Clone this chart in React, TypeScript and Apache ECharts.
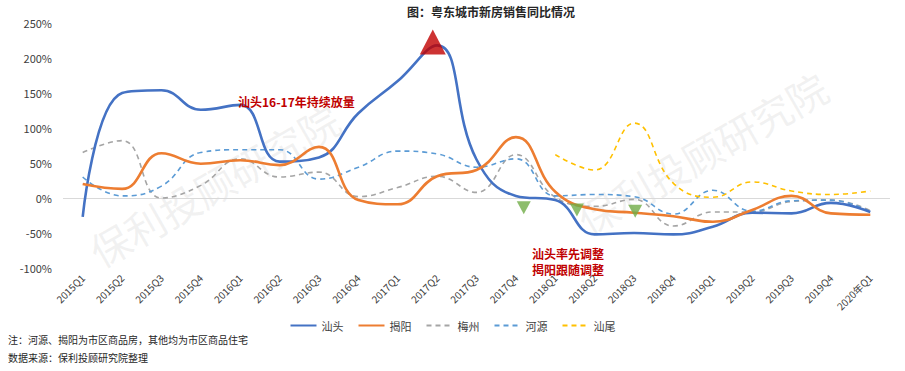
import React, { useEffect, useRef } from "react";
import * as echarts from "echarts";

const categories = ["2015Q1","2015Q2","2015Q3","2015Q4","2016Q1","2016Q2","2016Q3","2016Q4","2017Q1","2017Q2","2017Q3","2017Q4","2018Q1","2018Q2","2018Q3","2018Q4","2019Q1","2019Q2","2019Q3","2019Q4","2020年Q1"];
const shantou = [-27,150,154,126,133,52,58,121,167,218,55,3,-3,-52,-50,-52,-41,-21,-22,-7,-20];
const jieyang = [20,13,64,49,54,47,73,-3,-9,31,40,87,9,-16,-21,-26,-34,-17,3,-22,-24];
const meizhou = [65,82,0,18,56,30,37,2,15,31,8,62,1,-12,-2,-40,-20,-20,-5,-3,-18];
const heyuan = [30,3,17,65,69,69,27,44,67,63,44,56,3,5,2,-23,11,-19,-4,-3,-20];
const shanwei = [null,null,null,null,null,null,null,null,null,null,null,null,62,40,107,21,1,23,10,5,10];
const peakMarker = [[8.89, 223]];
const dropMarkers = [[11.2, -14], [12.55, -17], [14.03, -19]];
const yTicks = { min: -100, max: 250, interval: 50 };

const FONT = "'Microsoft YaHei', 'Noto Sans CJK SC', sans-serif";

export default function App() {
  const ref = useRef<HTMLDivElement>(null);
  useEffect(() => {
    document.body.style.margin = "0";
    const chart = echarts.init(ref.current!, null, { renderer: "svg" });
    const line = (name: string, data: any[], color: string, dashed: boolean) => ({
      name,
      type: "line",
      data,
      smooth: 0.45,
      symbol: "none",
      connectNulls: false,
      lineStyle: { color, width: dashed ? 1.6 : 2.6, type: dashed ? [5, 4] : "solid" },
      itemStyle: { color },
      z: dashed ? 3 : 4,
    });
    chart.setOption({
      animation: false,
      textStyle: { fontFamily: FONT },
      title: {
        text: "图：粤东城市新房销售同比情况",
        left: 402,
        top: 0,
        textStyle: { fontSize: 12, fontWeight: "bold", color: "#262626", fontFamily: FONT },
      },
      grid: { left: 63, right: 15, top: 23, bottom: 103 },
      legend: {
        data: ["汕头", "揭阳", "梅州", "河源", "汕尾"],
        left: "center",
        top: 315,
        itemWidth: 26,
        itemHeight: 10,
        itemGap: 14,
        itemStyle: { opacity: 0 },
        textStyle: { fontSize: 11, color: "#404040", fontFamily: FONT },
      },
      xAxis: [
        {
          type: "category",
          data: categories,
          boundaryGap: true,
          axisLine: { show: false },
          axisTick: { show: false },
          axisLabel: { rotate: 45, interval: 0, fontSize: 10, color: "#404040", margin: 8, fontFamily: FONT },
        },
        { type: "value", min: -0.5, max: 20.5, show: false },
      ],
      yAxis: {
        type: "value",
        min: yTicks.min,
        max: yTicks.max,
        interval: yTicks.interval,
        axisLine: { show: false },
        axisTick: { show: false },
        splitLine: { show: false },
        axisLabel: { formatter: "{value}%", fontSize: 11, color: "#404040", margin: 11, fontFamily: FONT },
      },
      graphic: [
        {
          type: "text", x: 214, y: 185, rotation: 0.52, z: 0, silent: true,
          style: { text: "保利投顾研究院", fontSize: 40, fill: "rgba(170,170,170,0.16)", align: "center", verticalAlign: "middle", fontFamily: FONT },
        },
        {
          type: "text", x: 702, y: 153, rotation: 0.52, z: 0, silent: true,
          style: { text: "保利投顾研究院", fontSize: 40, fill: "rgba(170,170,170,0.16)", align: "center", verticalAlign: "middle", fontFamily: FONT },
        },
        {
          type: "text", left: 238, top: 95, z: 10,
          style: { text: "汕头16-17年持续放量", fontSize: 12, fontWeight: "bold", fill: "#C00000", fontFamily: FONT },
        },
        {
          type: "text", left: 532, top: 245, z: 10,
          style: { text: "汕头率先调整\n揭阳跟随调整", fontSize: 12, fontWeight: "bold", fill: "#C00000", lineHeight: 16, fontFamily: FONT },
        },
        {
          type: "text", left: 8, top: 334,
          style: { text: "注：河源、揭阳为市区商品房，其他均为市区商品住宅", fontSize: 10, fill: "#262626", fontFamily: FONT },
        },
        {
          type: "text", left: 8, top: 352,
          style: { text: "数据来源：保利投顾研究院整理", fontSize: 10, fill: "#262626", fontFamily: FONT },
        },
      ],
      series: [
        {
          ...line("汕头", shantou, "#4472C4", false),
          markLine: {
            silent: true,
            symbol: "none",
            label: { show: false },
            lineStyle: { color: "#D9D9D9", width: 1, type: "solid" },
            data: [{ yAxis: 0 }],
            z: 1,
          },
        },
        line("揭阳", jieyang, "#ED7D31", false),
        line("梅州", meizhou, "#A5A5A5", true),
        line("河源", heyuan, "#5B9BD5", true),
        line("汕尾", shanwei, "#FFC000", true),
        {
          name: "peak",
          type: "scatter",
          xAxisIndex: 1,
          data: peakMarker,
          symbol: "triangle",
          symbolSize: [26, 25],
          itemStyle: { color: "#C00000" },
          z: 6,
        },
        {
          name: "drop",
          type: "scatter",
          xAxisIndex: 1,
          data: dropMarkers,
          symbol: "triangle",
          symbolRotate: 180,
          symbolSize: [14, 13],
          itemStyle: { color: "#70AD47" },
          z: 6,
        },
      ],
    });
    return () => chart.dispose();
  }, []);
  return <div ref={ref} style={{ width: 905, height: 371 }} />;
}
